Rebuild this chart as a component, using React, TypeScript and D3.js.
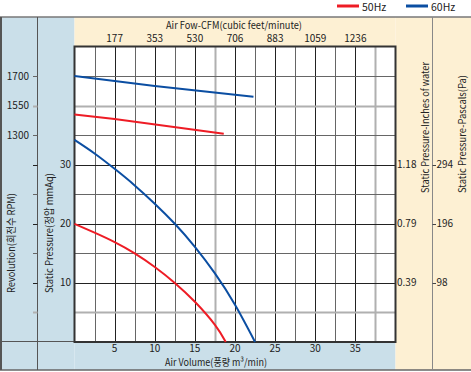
import React, { useEffect, useRef } from 'react';
import * as d3 from 'd3';

// air volume m3/min vs static pressure mmAq
const flow60 = [0, 2.5, 5, 7.5, 10, 12.5, 15, 17.5, 20, 22.5];
const pressure60 = [34.2, 31.9, 29.3, 26.5, 23.4, 20.0, 16.1, 11.6, 6.3, 0];
const flow50 = [0, 2.5, 5, 7.5, 10, 12.5, 15, 17.5, 18.85];
const pressure50 = [20, 18.5, 16.9, 15.0, 12.7, 10.0, 6.8, 2.9, 0];

// revolution curves
const rpmFlow60 = [0, 10, 22.3];
const rpm60 = [1700, 1650, 1595];
const rpmFlow50 = [0, 5, 18.6];
const rpm50 = [1474, 1436, 1312];

// axis labels
const xTicks = [5, 10, 15, 20, 25, 30, 35];
const cfmLabels = ['177', '353', '530', '706', '883', '1059', '1236'];
const pressureTicks = [10, 20, 30];
const inchLabels = ['0.39', '0.79', '1.18'];
const pascalLabels = ['98', '196', '294'];
const rpmLabels = ['1300', '1550', '1700'];
const rpmAt = [35, 40, 45];
const lightX = [17.5, 37.5];
const lightY = [5, 40];

const W = 471;
const H = 372;
const FONT = '"Noto Sans CJK KR", "Noto Sans", sans-serif';
const RED = '#ee1c25';
const BLUE = '#0b4ea2';
const BLUEBG = '#cadfe9';
const BEIGE = '#fdf0d3';

export default function App() {
  const ref = useRef<SVGSVGElement>(null);

  useEffect(() => {
    const svg = d3.select(ref.current);
    svg.selectAll('*').remove();

    const left = 74.5, right = 395.5, top = 46.5, bottom = 342;
    const x = d3.scaleLinear().domain([0, 40]).range([left, right]);
    const y = d3.scaleLinear().domain([0, 50]).range([bottom, top]);
    const yRpm = d3.scaleLinear().domain(rpmLabels.map(Number)).range(rpmAt.map(v => y(v)));

    // panels
    svg.append('rect').attr('x', 0).attr('y', 17).attr('width', 74.5).attr('height', 353).attr('fill', BLUEBG);
    svg.append('rect').attr('x', 74.5).attr('y', 342).attr('width', 321).attr('height', 28).attr('fill', BLUEBG);
    svg.append('rect').attr('x', 74.5).attr('y', 17).attr('width', 321).attr('height', 29.5).attr('fill', BEIGE);
    svg.append('rect').attr('x', 395.5).attr('y', 17).attr('width', 75.5).attr('height', 353).attr('fill', BEIGE);
    svg.append('rect').attr('x', left).attr('y', top).attr('width', right - left).attr('height', bottom - top).attr('fill', '#fff');

    // frame lines
    svg.append('line').attr('x1', 0).attr('x2', W).attr('y1', 17).attr('y2', 17).attr('stroke', '#777').attr('stroke-width', 1.5);
    svg.append('line').attr('x1', 0).attr('x2', W).attr('y1', 370).attr('y2', 370).attr('stroke', '#666').attr('stroke-width', 1.5);
    svg.append('line').attr('x1', 1).attr('x2', 1).attr('y1', 17).attr('y2', 370).attr('stroke', '#555').attr('stroke-width', 2);
    svg.append('line').attr('x1', 37.5).attr('x2', 37.5).attr('y1', 17).attr('y2', 370).attr('stroke', '#555');
    svg.append('line').attr('x1', 432.5).attr('x2', 432.5).attr('y1', 17).attr('y2', 370).attr('stroke', '#888');
    svg.append('line').attr('x1', 0).attr('x2', left).attr('y1', 341.5).attr('y2', 341.5).attr('stroke', '#555');

    // grid
    const vx = d3.range(2.5, 40, 2.5);
    const hy = d3.range(5, 50, 5);
    const gridColor = (v: number, light: number[], major: number) =>
      light.includes(v) ? '#b0b0b0' : v % major === 0 ? '#222' : '#666';
    svg.append('g').selectAll('line').data(vx).join('line')
      .attr('x1', d => Math.round(x(d)) + 0.5).attr('x2', d => Math.round(x(d)) + 0.5)
      .attr('y1', top).attr('y2', bottom)
      .attr('stroke', d => gridColor(d, lightX, 5))
      .attr('stroke-width', d => (lightX.includes(d) ? 2 : 1));
    svg.append('g').selectAll('line').data(hy).join('line')
      .attr('y1', d => Math.round(y(d)) + 0.5).attr('y2', d => Math.round(y(d)) + 0.5)
      .attr('x1', left).attr('x2', right)
      .attr('stroke', d => gridColor(d, lightY, 10))
      .attr('stroke-width', d => (lightY.includes(d) ? 2 : 1));

    // left rpm ticks
    svg.append('g').selectAll('line').data(hy).join('line')
      .attr('y1', d => Math.round(y(d)) + 0.5).attr('y2', d => Math.round(y(d)) + 0.5)
      .attr('x1', 33).attr('x2', 37.5)
      .attr('stroke', d => gridColor(d, lightY, 10))
      .attr('stroke-width', d => (lightY.includes(d) ? 2 : 1));

    svg.append('rect').attr('x', left).attr('y', top).attr('width', right - left).attr('height', bottom - top)
      .attr('fill', 'none').attr('stroke', '#333').attr('stroke-width', 2);

    // curves
    const line = d3.line<[number, number]>().x(d => x(d[0])).y(d => y(d[1])).curve(d3.curveNatural);
    const rpmLine = d3.line<[number, number]>().x(d => x(d[0])).y(d => yRpm(d[1]));
    const curves = [
      { d: rpmLine(d3.zip(rpmFlow60, rpm60) as [number, number][]), c: BLUE },
      { d: rpmLine(d3.zip(rpmFlow50, rpm50) as [number, number][]), c: RED },
      { d: line(d3.zip(flow60, pressure60) as [number, number][]), c: BLUE },
      { d: line(d3.zip(flow50, pressure50) as [number, number][]), c: RED },
    ];
    svg.append('g').selectAll('path').data(curves).join('path')
      .attr('d', d => d.d).attr('fill', 'none').attr('stroke', d => d.c).attr('stroke-width', 2);

    const text = (g: any) => g.attr('font-family', FONT).attr('font-size', 10).attr('fill', '#222');

    // top & bottom labels
    svg.append('g').call(text).attr('text-anchor', 'middle').selectAll('text').data(xTicks).join('text')
      .attr('x', d => x(d)).attr('y', 42).text((d, i) => cfmLabels[i]);
    svg.append('g').call(text).attr('text-anchor', 'middle').selectAll('text').data(xTicks).join('text')
      .attr('x', d => x(d)).attr('y', 352).text(d => d);
    svg.append('text').call(text).attr('x', 166).attr('y', 28.5)
      .attr('textLength', 136).attr('lengthAdjust', 'spacingAndGlyphs')
      .text('Air Fow-CFM(cubic feet/minute)');
    svg.append('text').call(text).attr('x', 165).attr('y', 365.5)
      .attr('textLength', 102).attr('lengthAdjust', 'spacingAndGlyphs')
      .text('Air Volume(풍량 m³/min)');

    // left labels
    svg.append('g').call(text).attr('text-anchor', 'end').selectAll('text').data(rpmLabels).join('text')
      .attr('x', 29).attr('y', (d, i) => y(rpmAt[i]) + 3.5).text(d => d);
    svg.append('g').call(text).attr('text-anchor', 'end').selectAll('text').data(pressureTicks).join('text')
      .attr('x', 71).attr('y', d => y(d) + 3.5).text(d => d);

    // right labels
    svg.append('g').call(text).selectAll('text').data(pressureTicks).join('text')
      .attr('x', 397).attr('y', d => y(d) + 3.5).text((d, i) => inchLabels[i]);
    svg.append('g').selectAll('line').data(pressureTicks).join('line')
      .attr('x1', 432.5).attr('x2', 436).attr('y1', d => Math.round(y(d)) + 0.5).attr('y2', d => Math.round(y(d)) + 0.5)
      .attr('stroke', '#444');
    svg.append('g').call(text).selectAll('text').data(pressureTicks).join('text')
      .attr('x', 436.5).attr('y', d => y(d) + 3.5).text((d, i) => pascalLabels[i]);

    // rotated titles, drawn upward from their lower end
    const vtitle = (cx: number, y0: number, len: number, s: string) =>
      svg.append('text').call(text)
        .attr('transform', `translate(${cx},${y0}) rotate(-90)`).attr('dy', '0.35em')
        .attr('textLength', len).attr('lengthAdjust', 'spacingAndGlyphs').text(s);
    vtitle(11, 293, 100, 'Revolution(회전수 RPM)');
    vtitle(49.5, 293, 120, 'Static Pressure(정압 mmAq)');
    vtitle(425, 193, 131, 'Static Pressure-Inches of water');
    vtitle(462.5, 193, 118, 'Static Pressure-Pascals(Pa)');

    // legend
    const legend = [{ k: '50Hz', c: RED, x: 337 }, { k: '60Hz', c: BLUE, x: 406 }];
    const lg = svg.append('g').selectAll('g').data(legend).join('g');
    lg.append('line').attr('x1', d => d.x).attr('x2', d => d.x + 22).attr('y1', 6).attr('y2', 6)
      .attr('stroke', d => d.c).attr('stroke-width', 3);
    lg.append('text').call(text).attr('font-size', 10.5).attr('x', d => d.x + 25).attr('y', 10.5).text(d => d.k);
  }, []);

  return (
    <svg ref={ref} width={W} height={H} style={{ position: 'absolute', left: 0, top: 0, background: '#fff' }} />
  );
}
